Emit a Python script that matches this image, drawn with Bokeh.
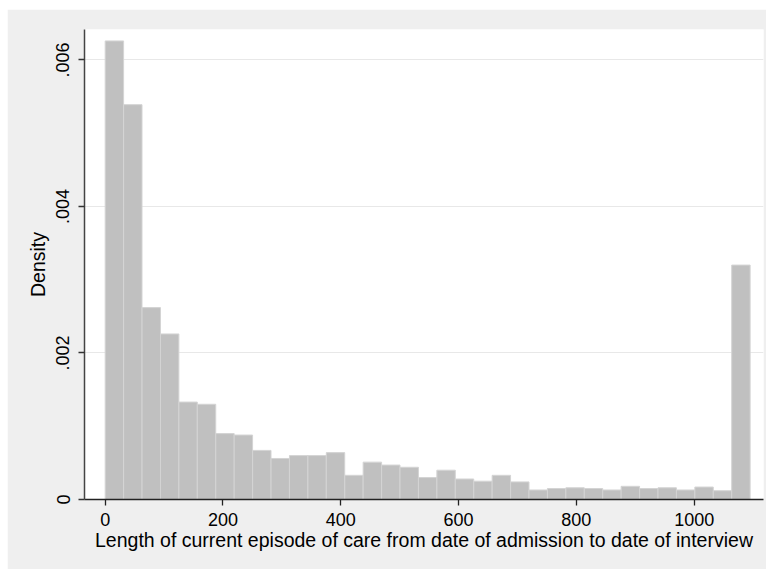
from bokeh.plotting import figure
from bokeh.models import FixedTicker, Range1d
from bokeh.embed import file_html
from bokeh.resources import INLINE

# Histogram of episode length (days), 35 equal-width bins from 0 to 1095
bin_start = 0.0
bin_end = 1095.0
densities = [
    0.00626, 0.00539, 0.00262, 0.00226, 0.00133, 0.00130, 0.00090,
    0.00088, 0.00067, 0.00056, 0.00060, 0.00060, 0.00064, 0.00033,
    0.00051, 0.00047, 0.00044, 0.00030, 0.00040, 0.00028, 0.00025,
    0.00033, 0.00024, 0.00013, 0.00015, 0.00016, 0.00015, 0.00013,
    0.00018, 0.00015, 0.00016, 0.00013, 0.00017, 0.00012, 0.00320,
]
x_ticks = [0, 200, 400, 600, 800, 1000]
y_ticks = [0, 0.002, 0.004, 0.006]
y_tick_labels = {0: "0", 0.002: ".002", 0.004: ".004", 0.006: ".006"}
x_title = "Length of current episode of care from date of admission to date of interview"
y_title = "Density"

n_bins = len(densities)
width = (bin_end - bin_start) / n_bins
lefts = [bin_start + i * width for i in range(n_bins)]
rights = [l + width for l in lefts]

FONT = "Liberation Sans"
BG = "#efefef"

p = figure(
    width=759, height=560,
    output_backend="svg", toolbar_location=None,
    x_range=Range1d(-35.1, 1117.7), y_range=Range1d(0, 0.006416),
    min_border_left=77, min_border_right=3, min_border_top=20, min_border_bottom=70,
)
p.margin = (9, 0, 0, 7)
p.border_fill_color = BG
p.background_fill_color = "white"
p.outline_line_color = None

p.quad(left=lefts, right=rights, bottom=0, top=densities,
       fill_color="#c0c0c0", line_color="#d4d4d4", line_width=1)

# grid
p.xgrid.visible = False
p.ygrid.ticker = FixedTicker(ticks=[0.002, 0.004, 0.006])
p.ygrid.grid_line_color = "#e8e8e8"
p.ygrid.grid_line_width = 1.2

# x axis
xa = p.xaxis[0]
xa.ticker = FixedTicker(ticks=x_ticks)
xa.axis_label = x_title
xa.axis_label_text_font = FONT
xa.axis_label_text_font_size = "19.5px"
xa.axis_label_text_font_style = "normal"
xa.axis_label_text_color = "black"
xa.axis_label_standoff = 0
xa.major_label_text_font = FONT
xa.major_label_text_font_size = "18px"
xa.major_label_text_color = "black"
xa.major_label_standoff = 7
xa.major_tick_out = 6
xa.major_tick_in = 0
xa.minor_tick_out = 0
xa.minor_tick_in = 0
xa.axis_line_color = "#222222"
xa.axis_line_width = 1.3
xa.major_tick_line_color = "#222222"
xa.major_tick_line_width = 1.3

# y axis
ya = p.yaxis[0]
ya.ticker = FixedTicker(ticks=y_ticks)
ya.major_label_overrides = y_tick_labels
ya.major_label_orientation = "vertical"
ya.axis_label = y_title
ya.axis_label_text_font = FONT
ya.axis_label_text_font_size = "19.5px"
ya.axis_label_text_font_style = "normal"
ya.axis_label_text_color = "black"
ya.axis_label_standoff = 5
ya.major_label_text_font = FONT
ya.major_label_text_font_size = "18px"
ya.major_label_text_color = "black"
ya.major_label_standoff = 9
ya.major_tick_out = 6
ya.major_tick_in = 0
ya.minor_tick_out = 0
ya.minor_tick_in = 0
ya.axis_line_color = "#444444"
ya.axis_line_width = 1.5
ya.major_tick_line_color = "#333333"
ya.major_tick_line_width = 1.3

open("out.html", "w").write(file_html(p, INLINE))
